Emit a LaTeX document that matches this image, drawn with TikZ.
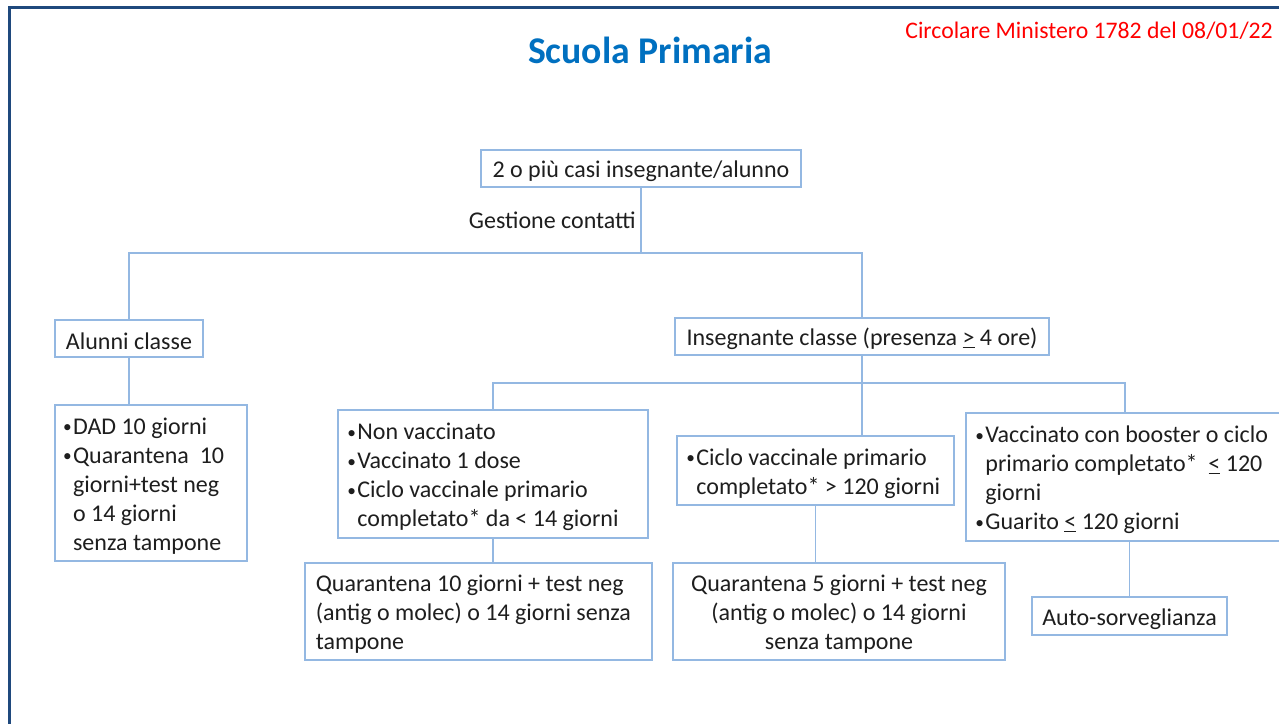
\documentclass[tikz,border=0pt]{standalone}
\usepackage{fontspec}
\setmainfont{Carlito}
\definecolor{boxc}{RGB}{148,184,226}
\definecolor{txt}{RGB}{30,30,30}
\definecolor{titleblue}{RGB}{0,112,192}
\definecolor{frameblue}{RGB}{31,73,125}
\newcommand\bl{\makebox[0.42em][l]{\raisebox{1.2pt}{\fontsize{13}{13}\selectfont •}}}
\newcommand\ind{\hspace*{0.42em}}
\newcommand\tpstrut{\rule{0pt}{17pt}}
\begin{document}
\begin{tikzpicture}[x=0.75pt,y=-0.75pt,
  box/.style={draw=boxc, line width=1.1pt, inner xsep=7pt, inner ysep=0pt,
    font=\fontsize{18}{21.75}\selectfont, text=txt, execute at begin node=\tpstrut},
  conn/.style={draw=boxc, line width=0.9pt},
  lab/.style={font=\fontsize{18}{21.75}\selectfont, text=txt, inner sep=0pt}]
\clip (0,0) rectangle (1279,724);
\fill[white] (0,0) rectangle (1279,724);
% frame
\draw[frameblue, line width=1.6pt] (8,7.5) -- (1279,7.5);
\draw[frameblue, line width=2.3pt] (9.5,7) -- (9.5,724);
% titles
\node[font=\fontsize{28.3}{32}\selectfont\bfseries, text=titleblue] (title) at (650,50) {Scuola Primaria};
\node[anchor=east, font=\fontsize{17.8}{20}\selectfont, text=red, inner sep=0pt] (circ) at (1273,31) {Circolare Ministero 1782 del 08/01/22};
% boxes
\node[box, minimum width=240pt, minimum height=27.75pt] (top) at (641,168.5) {2 o più casi insegnante/alunno};
\node[lab, anchor=east] (gest) at (636,220) {Gestione contatti};
\node[box, minimum width=111pt, minimum height=27.75pt] (alunni) at (129,338.5) {Alunni classe};
\node[box, minimum height=117pt, text width=132pt, align=flush left, inner xsep=6pt] (dad) at (151,483)
  {\bl DAD 10 giorni\\ \bl Quarantena\ \ 10\\ \ind giorni+test neg\\ \ind o 14 giorni\\ \ind senza tampone};
\node[box, minimum width=280.5pt, minimum height=27.75pt] (insegn) at (862,336.5) {Insegnante classe (presenza \underline{>} 4 ore)};
\node[box, minimum height=96pt, text width=218.5pt, align=flush left] (nonvacc) at (493,474)
  {\bl Non vaccinato\\ \bl Vaccinato 1 dose\\ \bl Ciclo vaccinale primario\\ \ind completato* da < 14 giorni};
\node[box, minimum height=72.75pt, text width=244pt, align=flush left, inner xsep=8pt] (q10) at (478.5,611.5)
  {Quarantena 10 giorni + test neg\\ (antig o molec) o 14 giorni senza\\ tampone};
\node[box, minimum height=51.75pt, text width=193.75pt, align=flush left] (ciclo) at (815.5,470.5)
  {\bl Ciclo vaccinale primario\\ \ind completato* > 120 giorni};
\node[box, minimum height=72.75pt, text width=235pt, align=flush center] (q5) at (839,611.5)
  {Quarantena 5 giorni + test neg\\ (antig o molec) o 14 giorni\\ senza tampone};
\node[box, minimum height=96pt, text width=224.5pt, align=flush left] (vacc) at (1125,477)
  {\bl Vaccinato con booster o ciclo\\ \ind primario completato*\ \ \underline{<} 120\\ \ind giorni\\ \bl Guarito \underline{<} 120 giorni};
\node[box, minimum width=146.25pt, minimum height=28.5pt] (auto) at (1129.5,616) {Auto-sorveglianza};
% connectors
\coordinate (j1) at (641,253);
\coordinate (j2) at (862,383);
\draw[conn] (top.south) -- (j1);
\draw[conn] (alunni.north) |- (j1) -| (insegn.north);
\draw[conn] (alunni.south) -- (alunni.south |- dad.north);
\draw[conn] (insegn.south) -- (insegn.south |- ciclo.north);
\draw[conn] (nonvacc.north) |- (j2) -| (vacc.north);
\draw[conn] (nonvacc.south) -- (nonvacc.south |- q10.north);
\draw[conn] (ciclo.south) -- (ciclo.south |- q5.north);
\draw[conn] (auto.north) -- (auto.north |- vacc.south);
\end{tikzpicture}
\end{document}
